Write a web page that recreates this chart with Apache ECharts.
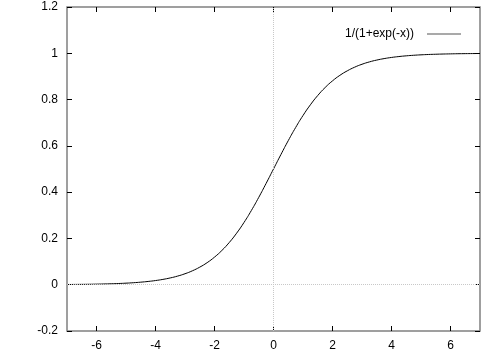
<!DOCTYPE html>
<html><head><meta charset="utf-8">
<script src="https://cdn.jsdelivr.net/npm/echarts@6/dist/echarts.min.js"></script>
<style>html,body{margin:0;padding:0;background:#fff}#c{width:504px;height:353px}</style>
</head><body><div id="c"></div>
<script>
const seriesName = '1/(1+exp(-x))';
const xValues = [-7,-6.75,-6.5,-6.25,-6,-5.75,-5.5,-5.25,-5,-4.75,-4.5,-4.25,-4,-3.75,-3.5,-3.25,-3,-2.75,-2.5,-2.25,-2,-1.75,-1.5,-1.25,-1,-0.75,-0.5,-0.25,0,0.25,0.5,0.75,1,1.25,1.5,1.75,2,2.25,2.5,2.75,3,3.25,3.5,3.75,4,4.25,4.5,4.75,5,5.25,5.5,5.75,6,6.25,6.5,6.75,7];
const yValues = [0.0009,0.0012,0.0015,0.0019,0.0025,0.0032,0.0041,0.0052,0.0067,0.0086,0.0110,0.0141,0.0180,0.0230,0.0293,0.0373,0.0474,0.0601,0.0759,0.0953,0.1192,0.1480,0.1824,0.2227,0.2689,0.3208,0.3775,0.4378,0.5,0.5622,0.6225,0.6792,0.7311,0.7773,0.8176,0.8520,0.8808,0.9047,0.9241,0.9399,0.9526,0.9627,0.9707,0.9770,0.9820,0.9859,0.9890,0.9914,0.9933,0.9948,0.9959,0.9968,0.9975,0.9981,0.9985,0.9988,0.9991];
const xTicks = [-6,-4,-2,0,2,4,6];
const yTicks = [-0.2,0,0.2,0.4,0.6,0.8,1,1.2];

const font = {fontFamily:'Liberation Sans, Arial, sans-serif', fontSize:12, color:'#000'};
const tick = {show:true, inside:true, length:5, lineStyle:{color:'#000', width:1}};
const chart = echarts.init(document.getElementById('c'), null, {renderer:'canvas'});
const xBase = {type:'value', min:-7, max:7, splitLine:{show:false}, axisLine:{show:false, onZero:false}};
const yBase = {type:'value', min:-0.2, max:1.2, interval:0.2, splitLine:{show:false}, axisLine:{show:false, onZero:false}};
chart.setOption({
  animation:false,
  grid:{left:67, right:24, top:7, bottom:22, show:true, borderColor:'#808080', borderWidth:1.5, backgroundColor:'transparent'},
  legend:{show:true, right:38, top:23, align:'right', itemWidth:34, itemHeight:1, itemGap:0,
    textStyle:Object.assign({}, font, {padding:[0,8,0,0]}),
    data:[{name:seriesName, icon:'rect', itemStyle:{color:'#555'}}]},
  xAxis:[
    Object.assign({}, xBase, {position:'bottom', axisTick:Object.assign({customValues:xTicks}, tick), axisLabel:Object.assign({customValues:xTicks, margin:9}, font)}),
    Object.assign({}, xBase, {position:'top', axisTick:Object.assign({customValues:xTicks}, tick), axisLabel:{show:false}})
  ],
  yAxis:[
    Object.assign({}, yBase, {position:'left', axisTick:tick, axisLabel:Object.assign({margin:9}, font)}),
    Object.assign({}, yBase, {position:'right', axisTick:tick, axisLabel:{show:false}})
  ],
  series:[{
    name:seriesName, type:'line', xAxisIndex:0, yAxisIndex:0,
    data:xValues.map((x,i)=>[x,yValues[i]]),
    showSymbol:false, smooth:true,
    lineStyle:{color:'#000', width:1},
    itemStyle:{color:'#000'},
    markLine:{silent:true, symbol:'none', label:{show:false},
      lineStyle:{color:'#c8c8c8', type:'dotted', width:1},
      data:[{xAxis:0},{yAxis:0}]}
  }]
});
</script></body></html>
